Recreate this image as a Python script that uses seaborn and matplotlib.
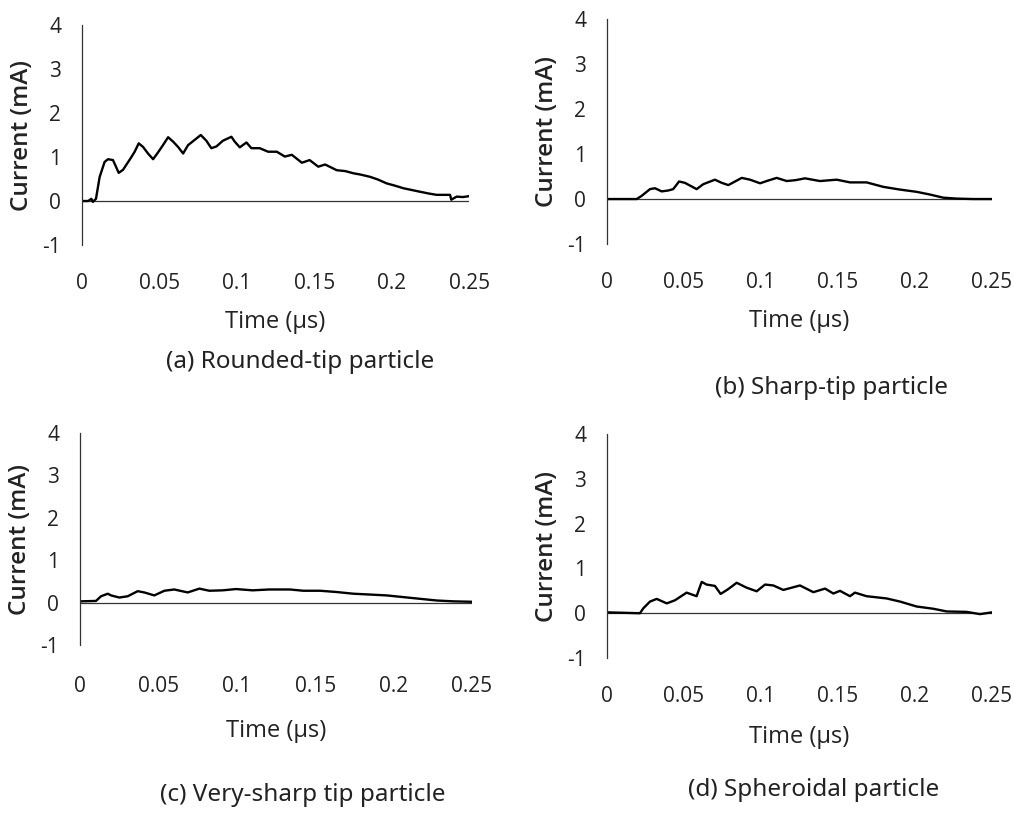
import numpy as np
import pandas as pd
import matplotlib.pyplot as plt
import seaborn as sns

t_a = [0, 0.004, 0.006, 0.007, 0.009, 0.0114, 0.0146, 0.0168, 0.020, 0.0237, 0.0265, 0.0319, 0.034,
       0.0366, 0.0394, 0.0426, 0.0459, 0.049, 0.0523, 0.0556, 0.0588, 0.062, 0.0653, 0.0685, 0.0728,
       0.0767, 0.0803, 0.0835, 0.0868, 0.091, 0.0965, 0.0986, 0.1019, 0.1062, 0.1094, 0.1148, 0.1202,
       0.1258, 0.131, 0.1355, 0.142, 0.147, 0.1526, 0.157, 0.1645, 0.170, 0.1753, 0.180, 0.186, 0.191,
       0.1968, 0.202, 0.2076, 0.213, 0.2184, 0.224, 0.229, 0.2377, 0.2385, 0.242, 0.246, 0.25]
i_a = [0, 0.0, 0.05, -0.02, 0.05, 0.55, 0.89, 0.95, 0.93, 0.64, 0.71, 1.0, 1.12,
       1.31, 1.23, 1.08, 0.95, 1.10, 1.27, 1.45, 1.35, 1.23, 1.08, 1.27, 1.39,
       1.50, 1.37, 1.20, 1.24, 1.37, 1.46, 1.35, 1.22, 1.33, 1.20, 1.20, 1.12,
       1.12, 1.01, 1.05, 0.87, 0.93, 0.78, 0.83, 0.70, 0.68, 0.63, 0.60, 0.55, 0.49,
       0.40, 0.35, 0.29, 0.25, 0.21, 0.17, 0.14, 0.14, 0.03, 0.10, 0.09, 0.11]

t_b = [0, 0.0193, 0.0225, 0.0279, 0.0312, 0.0355, 0.0398, 0.043, 0.0468, 0.0506, 0.0582, 0.0625,
       0.0701, 0.0745, 0.0788, 0.0875, 0.0929, 0.0994, 0.1037, 0.1102, 0.1167, 0.1225, 0.1286,
       0.1383, 0.1492, 0.1578, 0.1686, 0.1795, 0.1903, 0.2011, 0.2097, 0.2184, 0.227, 0.2378, 0.25]
i_b = [0, 0.0, 0.07, 0.22, 0.24, 0.17, 0.19, 0.22, 0.39, 0.36, 0.22, 0.33,
       0.43, 0.36, 0.31, 0.47, 0.43, 0.35, 0.40, 0.47, 0.40, 0.42, 0.46,
       0.40, 0.43, 0.37, 0.37, 0.27, 0.21, 0.16, 0.10, 0.03, 0.01, 0.0, 0.0]

t_c = [0, 0.0102, 0.0134, 0.0177, 0.0198, 0.0251, 0.0304, 0.0368, 0.041, 0.0474, 0.0538, 0.0601,
       0.0687, 0.0761, 0.0825, 0.091, 0.0995, 0.1101, 0.1207, 0.1339, 0.1424, 0.1531, 0.1637,
       0.1743, 0.185, 0.1956, 0.2062, 0.2168, 0.2275, 0.2381, 0.25]
i_c = [0.03, 0.04, 0.15, 0.21, 0.17, 0.12, 0.15, 0.27, 0.24, 0.17, 0.28, 0.31,
       0.24, 0.33, 0.28, 0.29, 0.32, 0.29, 0.31, 0.31, 0.28, 0.28, 0.25,
       0.21, 0.19, 0.17, 0.13, 0.09, 0.05, 0.03, 0.02]

t_d = [0, 0.0214, 0.0236, 0.0279, 0.0323, 0.0388, 0.0442, 0.0517, 0.0582, 0.0615, 0.0647, 0.0701,
       0.0738, 0.0788, 0.0842, 0.0907, 0.0972, 0.1026, 0.108, 0.1145, 0.1199, 0.1253, 0.134, 0.1416,
       0.147, 0.1513, 0.1578, 0.161, 0.1686, 0.1816, 0.1903, 0.2011, 0.2119, 0.2206, 0.2336, 0.2422, 0.25]
i_d = [0.02, 0.0, 0.11, 0.26, 0.32, 0.22, 0.29, 0.46, 0.38, 0.70, 0.64, 0.61,
       0.43, 0.54, 0.68, 0.57, 0.49, 0.64, 0.62, 0.52, 0.57, 0.62, 0.47, 0.55,
       0.44, 0.50, 0.38, 0.46, 0.38, 0.33, 0.26, 0.15, 0.10, 0.04, 0.03, -0.02, 0.02]

captions = ['(a) Rounded-tip particle', '(b) Sharp-tip particle',
            '(c) Very-sharp tip particle', '(d) Spheroidal particle']
x_ticks = [0, 0.05, 0.1, 0.15, 0.2, 0.25]
x_labels = ['0', '0.05', '0.1', '0.15', '0.2', '0.25']
y_ticks = [-1, 0, 1, 2, 3, 4]
y_labels = ['-1', '0', '1', '2', '3', '4']

sns.set_style('white')
plt.rcParams['font.family'] = ['Open Sans', 'DejaVu Sans']

fig = plt.figure(figsize=(10.14, 8.14), dpi=100)

# axes boxes in figure fractions, taken from the reference layout
boxes = [[0.0809, 0.699, 0.3817, 0.2703],
         [0.5986, 0.7002, 0.3797, 0.2764],
         [0.0789, 0.2076, 0.3866, 0.2604],
         [0.5986, 0.1916, 0.3797, 0.2752]]
xpads = [20, 20, 22, 20]
xlabpads = [12, 12, 16, 13]
cap_pos = [(0.296, 0.555), (0.8205, 0.523), (0.299, 0.0233), (0.802, 0.0295)]
traces = [(t_a, i_a), (t_b, i_b), (t_c, i_c), (t_d, i_d)]

for k in range(4):
    ax = fig.add_axes(boxes[k])
    df = pd.DataFrame({'t': traces[k][0], 'i': traces[k][1]})
    sns.lineplot(data=df, x='t', y='i', ax=ax, color='black', lw=1.7)
    ax.axhline(0, color='#333333', lw=0.9, zorder=1)
    ax.set_xlim(0, 0.25)
    ax.set_ylim(-1, 4)
    ax.set_xticks(x_ticks)
    ax.set_xticklabels(x_labels)
    ax.set_yticks(y_ticks)
    ax.set_yticklabels(y_labels)
    for s in ['top', 'right', 'bottom']:
        ax.spines[s].set_visible(False)
    ax.spines['left'].set_color('#333333')
    ax.spines['left'].set_linewidth(0.9)
    ax.tick_params(axis='x', length=0, pad=xpads[k], labelsize=15, colors='#222222')
    ax.tick_params(axis='y', length=0, pad=15, labelsize=15, colors='#222222')
    ax.set_xlabel('Time (µs)', fontsize=17, color='#222222', labelpad=xlabpads[k])
    ax.set_ylabel('Current (mA)', fontsize=17.5, fontweight='semibold', color='#222222', labelpad=6)
    fig.text(cap_pos[k][0], cap_pos[k][1], captions[k], ha='center', va='center',
             fontsize=17.5, family=['Noto Sans', 'DejaVu Sans'], color='#222222')

fig.savefig('out.png', dpi=100)
